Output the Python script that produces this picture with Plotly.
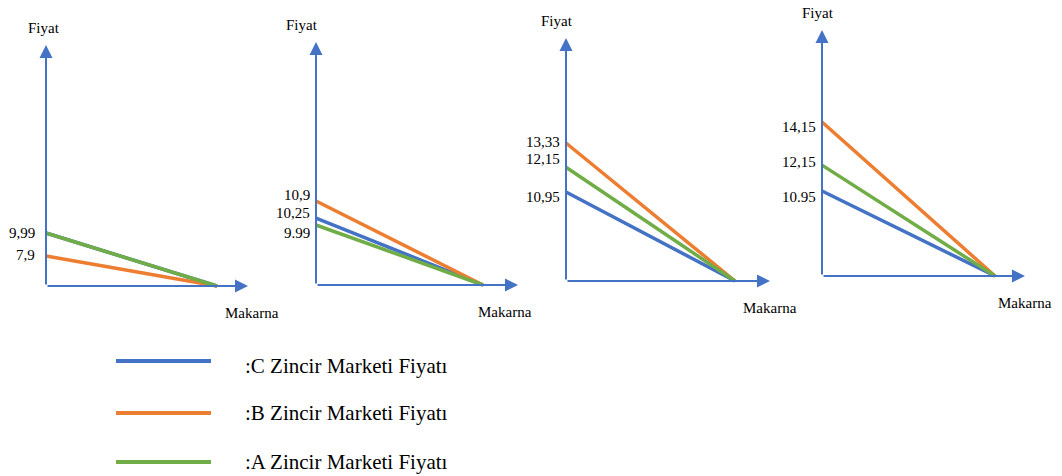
import plotly.graph_objects as go

W, H = 1062, 476

# ---- data ----
series = ["A", "B", "C"]
price_A = [9.99, 9.99, 12.15, 12.15]
price_B = [7.9, 10.9, 13.33, 14.15]
price_C = [9.99, 10.25, 10.95, 10.95]
quantity = [0, 1]
tick_vals = [[9.99, 7.9], [10.9, 10.25, 9.99], [13.33, 12.15, 10.95], [14.15, 12.15, 10.95]]
tick_text = [["9,99", "7,9"], ["10,9", "10,25", "9.99"], ["13,33", "12,15", "10,95"], ["14,15", "12,15", "10.95"]]
y_title = "Fiyat"
x_title = "Makarna"
legend_order = ["C", "B", "A"]
legend_label = ":{} Zincir Marketi Fiyatı"

prices = {"A": price_A, "B": price_B, "C": price_C}

# ---- styles / geometry ----
colors = {"A": "#70AD47", "B": "#ED7D31", "C": "#4472C4"}
axis_color = "#4472C4"
draw_order = ["C", "B", "A"]
FONT = "'Liberation Serif', 'Times New Roman', 'DejaVu Serif', serif"

axis_px = [46, 316, 566, 822]
end_px = [217, 483, 735, 995]
tip_px = [248, 518, 770, 1025]
base_py = [286, 285, 281, 276]
top_py = [45, 42, 38, 30]
ycal = [(9.99, 233, 7.9, 256), (10.9, 201, 9.99, 225),
        (13.33, 143, 10.95, 192), (14.15, 122, 10.95, 191)]
fiyat_dx = [-2, -14, -9, -4]
makarna_dx = [4, -13, 0, 0]
tick_dx = [-9, -4, -4, -4]
tick_dy = [[0, 1], [6, 5, -8], [1, 8, -5], [-5, 3, -6]]

fig = go.Figure()
annotations = []
layout_axes = {}

for i in range(4):
    n = "" if i == 0 else str(i + 1)
    xr, yr = "x" + n, "y" + n
    a, e = axis_px[i], end_px[i]
    xv = lambda p: (p - a) / (e - a)
    va, pa, vb, pb = ycal[i]
    yv = lambda p: va + (p - pa) * (vb - va) / (pb - pa)
    floor = yv(base_py[i])
    top = yv(top_py[i])
    xl, xrgt = a - 20, tip_px[i] + 10
    yt, yb = top_py[i] - 10, base_py[i] + 12
    layout_axes["xaxis" + n] = dict(domain=[xl / W, xrgt / W], range=[xv(xl), xv(xrgt)],
                                    visible=False, anchor=yr, fixedrange=True)
    layout_axes["yaxis" + n] = dict(domain=[1 - yb / H, 1 - yt / H], range=[yv(yb), yv(yt)],
                                    visible=False, anchor=xr, fixedrange=True)
    for s in draw_order:
        fig.add_trace(go.Scatter(x=quantity, y=[prices[s][i], floor], mode="lines",
                                 line=dict(color=colors[s], width=3.5),
                                 xaxis=xr, yaxis=yr, showlegend=False, hoverinfo="skip"))
    # axes arrows
    annotations.append(dict(x=0, y=top, ax=0, ay=floor, xref=xr, yref=yr, axref=xr, ayref=yr,
                            showarrow=True, arrowhead=2, arrowsize=1.3, arrowwidth=2,
                            arrowcolor=axis_color, text=""))
    annotations.append(dict(x=xv(tip_px[i]), y=floor, ax=0, ay=floor, xref=xr, yref=yr,
                            axref=xr, ayref=yr, showarrow=True, arrowhead=2, arrowsize=1.3,
                            arrowwidth=2, arrowcolor=axis_color, text=""))
    annotations.append(dict(x=0, y=top, xref=xr, yref=yr, text=y_title, showarrow=False,
                            xshift=fiyat_dx[i], yshift=17, yanchor="middle",
                            font=dict(family=FONT, size=15, color="black")))
    annotations.append(dict(x=xv(tip_px[i]), y=floor, xref=xr, yref=yr, text=x_title, showarrow=False,
                            xshift=makarna_dx[i], yshift=-27, yanchor="middle",
                            font=dict(family=FONT, size=15, color="black")))
    for v, t, dy in zip(tick_vals[i], tick_text[i], tick_dy[i]):
        annotations.append(dict(x=0, y=v, xref=xr, yref=yr, text=t, showarrow=False,
                                xanchor="right", yanchor="middle", xshift=tick_dx[i], yshift=dy,
                                font=dict(family=FONT, size=15, color="black")))

# legend (drawn manually)
leg_x0, leg_x1, leg_tx = 116, 211, 243
leg_y = [361, 413, 462]
leg_text_y = [366, 413, 462]
shapes = []
for s, py, ty in zip(legend_order, leg_y, leg_text_y):
    shapes.append(dict(type="line", xref="paper", yref="paper", x0=leg_x0 / W, x1=leg_x1 / W,
                       y0=1 - py / H, y1=1 - py / H, line=dict(color=colors[s], width=4)))
    annotations.append(dict(x=leg_tx / W, y=1 - ty / H, xref="paper", yref="paper",
                            text=legend_label.format(s), showarrow=False,
                            xanchor="left", yanchor="middle",
                            font=dict(family=FONT, size=21, color="black")))

fig.update_layout(width=W, height=H, margin=dict(l=0, r=0, t=0, b=0),
                  paper_bgcolor="white", plot_bgcolor="rgba(0,0,0,0)",
                  annotations=annotations, shapes=shapes, **layout_axes)
fig.write_html("out.html", config={"displayModeBar": False},
               post_script="document.body.style.margin='0';")
